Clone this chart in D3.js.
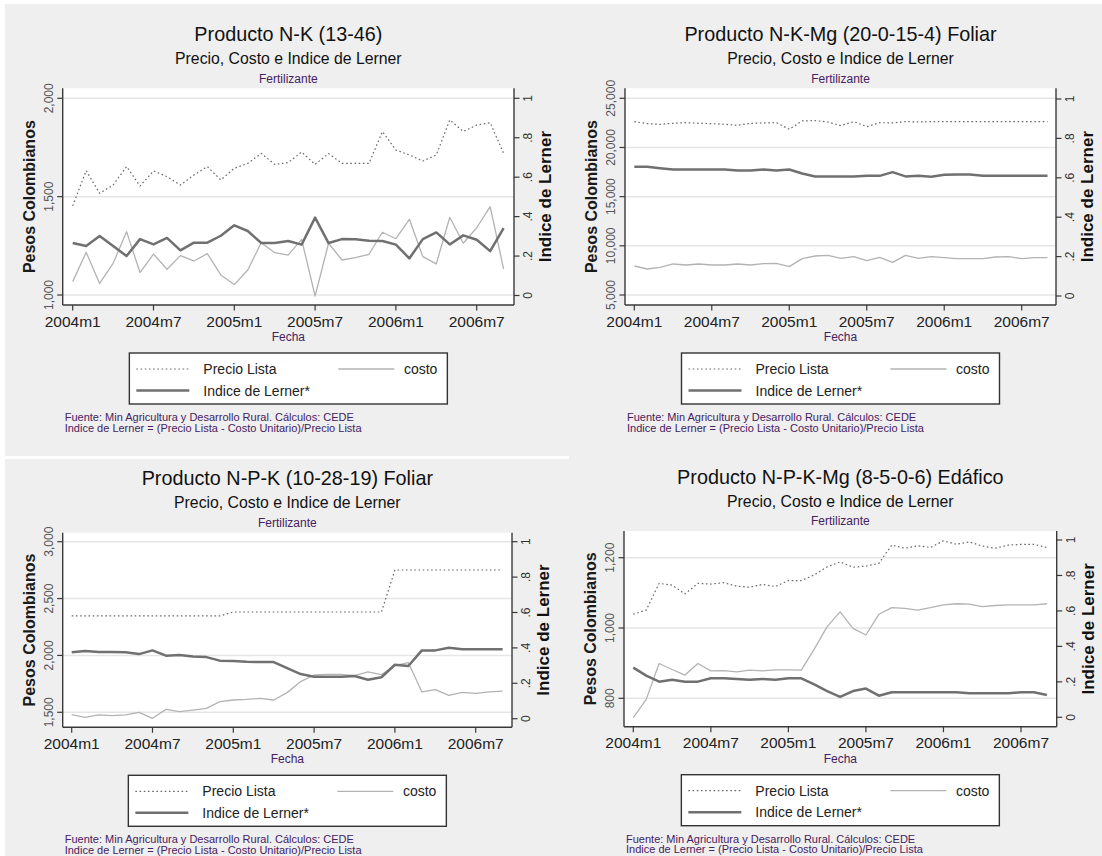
<!DOCTYPE html>
<html><head><meta charset="utf-8">
<script src="https://cdn.jsdelivr.net/npm/d3@7"></script>
<style>
body{margin:0;background:#fff;}
svg{display:block;font-family:"Liberation Sans",Arial,sans-serif;}
</style>
</head><body>
<svg id="chart" width="1102" height="856"></svg>
<script>
// ---------- DATA ----------
const months = ["2004m1","2004m2","2004m3","2004m4","2004m5","2004m6","2004m7","2004m8","2004m9","2004m10","2004m11","2004m12",
  "2005m1","2005m2","2005m3","2005m4","2005m5","2005m6","2005m7","2005m8","2005m9","2005m10","2005m11","2005m12",
  "2006m1","2006m2","2006m3","2006m4","2006m5","2006m6","2006m7","2006m8","2006m9"];
const xTickLabels = ["2004m1","2004m7","2005m1","2005m7","2006m1","2006m7"];
const seriesNames = ["Precio Lista","costo","Indice de Lerner*"];
const lernerTicks = [0,0.2,0.4,0.6,0.8,1];
const lernerTickLabels = ["0",".2",".4",".6",".8","1"];

const panelTitles = ["Producto N-K (13-46)","Producto N-K-Mg (20-0-15-4) Foliar","Producto N-P-K (10-28-19) Foliar","Producto N-P-K-Mg (8-5-0-6) Edáfico"];
const subtitle = "Precio, Costo e Indice de Lerner";
const caption = "Fertilizante";
const xTitle = "Fecha";
const yTitleLeft = "Pesos Colombianos";
const yTitleRight = "Indice de Lerner";
const notes = ["Fuente: Min Agricultura y Desarrollo Rural. Cálculos: CEDE","Indice de Lerner = (Precio Lista - Costo Unitario)/Precio Lista"];

// Panel 1: N-K (13-46)
const nkPrecio = [1453,1632,1517,1559,1653,1554,1631,1602,1559,1610,1653,1585,1644,1669,1720,1664,1673,1727,1664,1719,1669,1669,1669,1831,1737,1712,1681,1712,1890,1831,1864,1876,1720];
const nkCosto  = [1068,1217,1059,1161,1322,1114,1208,1131,1200,1173,1210,1102,1053,1127,1266,1215,1203,1283,995,1263,1178,1190,1207,1319,1286,1385,1195,1158,1395,1263,1342,1449,1132];
const nkLerner = [0.266,0.251,0.302,0.251,0.200,0.286,0.259,0.292,0.229,0.268,0.268,0.303,0.356,0.327,0.266,0.266,0.276,0.258,0.395,0.266,0.286,0.285,0.278,0.276,0.258,0.188,0.286,0.320,0.259,0.305,0.283,0.225,0.342];
const nkTicks = [1000,1500,2000];

// Panel 2: N-K-Mg (20-0-15-4) Foliar
const nkmgPrecio = [22627,22424,22356,22458,22525,22458,22424,22356,22254,22458,22492,22525,21847,22695,22729,22593,22220,22627,22118,22525,22492,22627,22593,22627,22627,22627,22627,22627,22627,22627,22627,22627,22627];
const nkmgCosto  = [7949,7644,7814,8153,8051,8153,8051,8051,8153,8051,8186,8220,7881,8695,8966,9034,8729,8898,8492,8831,8322,9034,8729,8898,8797,8695,8695,8695,8864,8898,8695,8797,8797];
const nkmgLerner = [0.656,0.656,0.649,0.642,0.642,0.642,0.642,0.642,0.637,0.637,0.642,0.637,0.642,0.622,0.607,0.607,0.607,0.607,0.610,0.610,0.629,0.607,0.610,0.605,0.615,0.617,0.617,0.610,0.610,0.610,0.610,0.610,0.610];
const nkmgTicks = [5000,10000,15000,20000,25000];

// Panel 3: N-P-K (10-28-19) Foliar
const npkPrecio = [2347,2347,2347,2347,2347,2347,2347,2347,2347,2347,2347,2347,2382,2382,2382,2382,2382,2382,2382,2382,2382,2382,2382,2382,2751,2751,2751,2751,2751,2751,2751,2751,2751];
const npkCosto  = [1480,1456,1477,1471,1477,1500,1447,1526,1506,1520,1535,1594,1608,1614,1623,1608,1673,1770,1828,1834,1834,1822,1855,1831,1910,1937,1679,1699,1649,1676,1667,1679,1687];
const npkLerner = [0.375,0.382,0.377,0.377,0.375,0.365,0.386,0.356,0.360,0.352,0.348,0.328,0.326,0.322,0.320,0.320,0.286,0.252,0.237,0.237,0.237,0.241,0.220,0.234,0.305,0.298,0.386,0.386,0.401,0.392,0.392,0.392,0.392];
const npkTicks = [1500,2000,2500,3000];

// Panel 4: N-P-K-Mg (8-5-0-6) Edáfico
const npkmgPrecio = [1039,1051,1127,1122,1097,1127,1125,1129,1119,1116,1124,1118,1135,1135,1151,1174,1188,1173,1176,1184,1236,1227,1234,1229,1248,1238,1245,1233,1227,1236,1238,1238,1229];
const npkmgCosto  = [745,797,899,882,866,899,878,879,875,880,878,881,881,880,940,1004,1046,999,980,1039,1058,1056,1051,1058,1066,1069,1068,1061,1064,1066,1066,1066,1069];
const npkmgLerner = [0.280,0.235,0.201,0.212,0.201,0.201,0.220,0.220,0.216,0.212,0.216,0.212,0.220,0.220,0.186,0.148,0.115,0.148,0.162,0.122,0.141,0.141,0.141,0.141,0.141,0.141,0.135,0.135,0.135,0.135,0.141,0.141,0.126];
const npkmgTicks = [800,1000,1200];

// ---------- LAYOUT / STYLE ----------
const panels = [
  {title:panelTitles[0], precio:nkPrecio, costo:nkCosto, lerner:nkLerner, ticks:nkTicks,
   l:62.7, r:514, t:88.3, b:305, x0:72.7, x30:476.7, yL:[1000,295,2000,98.3], yR:[0,295.5,1,98.3]},
  {title:panelTitles[1], precio:nkmgPrecio, costo:nkmgCosto, lerner:nkmgLerner, ticks:nkmgTicks,
   l:625, r:1056, t:88.3, b:305, x0:634.3, x30:1021.7, yL:[5000,295,25000,98.3], yR:[0,296,1,99]},
  {title:panelTitles[2], precio:npkPrecio, costo:npkCosto, lerner:npkLerner, ticks:npkTicks,
   l:62.7, r:512, t:532.7, b:727.3, x0:71.7, x30:475.7, yL:[1500,712.3,3000,541.7], yR:[0,718.7,1,541.7]},
  {title:panelTitles[3], precio:npkmgPrecio, costo:npkmgCosto, lerner:npkmgLerner, ticks:npkmgTicks,
   l:624, r:1056.7, t:531, b:726.7, x0:633.3, x30:1021, yL:[800,698.3,1200,557.7], yR:[0,717.3,1,540]}
];
const purple = "#46215f";
const svg = d3.select("#chart");

// backgrounds
svg.append("rect").attr("x",5).attr("y",4).attr("width",564).attr("height",452).attr("fill","#efefef");
svg.append("rect").attr("x",5).attr("y",459).attr("width",564).attr("height",397).attr("fill","#efefef");
svg.append("rect").attr("x",569).attr("y",4).attr("width",533).attr("height",852).attr("fill","#efefef");

const styles = {
  precio:{stroke:"#6a6a6a", width:1.2, dash:"1.6,2.6"},
  costo:{stroke:"#b3b3b3", width:1.3, dash:null},
  lerner:{stroke:"#707070", width:2.5, dash:null}
};

panels.forEach(p => {
  const g = svg.append("g");
  const cx = (p.l + p.r)/2;
  const x = d3.scaleLinear().domain([0,30]).range([p.x0,p.x30]);
  const yL = d3.scaleLinear().domain([p.yL[0],p.yL[2]]).range([p.yL[1],p.yL[3]]);
  const yR = d3.scaleLinear().domain([p.yR[0],p.yR[2]]).range([p.yR[1],p.yR[3]]);

  // plot area
  g.append("rect").attr("x",p.l).attr("y",p.t).attr("width",p.r-p.l).attr("height",p.b-p.t).attr("fill","#fff");
  // gridlines
  g.selectAll(".grid").data(p.ticks).enter().append("line")
    .attr("x1",p.l).attr("x2",p.r).attr("y1",d=>yL(d)).attr("y2",d=>yL(d))
    .attr("stroke","#e6e6e6").attr("stroke-width",1.5);

  // titles
  g.append("text").attr("x",cx).attr("y",p.t-47.3).attr("text-anchor","middle")
    .attr("font-size",19.8).attr("fill","#111").text(p.title);
  g.append("text").attr("x",cx).attr("y",p.t-24.3).attr("text-anchor","middle")
    .attr("font-size",15.8).attr("fill","#111").text(subtitle);
  g.append("text").attr("x",cx).attr("y",p.t-5.6).attr("text-anchor","middle")
    .attr("font-size",12).attr("fill",purple).text(caption);

  // lines
  const mk = (arr, sc) => d3.line().x((d,i)=>x(i)).y(d=>sc(d))(arr);
  [["costo",p.costo,yL],["precio",p.precio,yL],["lerner",p.lerner,yR]].forEach(([k,arr,sc])=>{
    const s = styles[k];
    g.append("path").attr("d",mk(arr,sc)).attr("fill","none").attr("stroke",s.stroke)
      .attr("stroke-width",s.width).attr("stroke-dasharray",s.dash).attr("stroke-linejoin","round");
  });

  // axes lines
  const axc = "#3a3a3a";
  g.append("line").attr("x1",p.l).attr("x2",p.l).attr("y1",p.t).attr("y2",p.b).attr("stroke",axc).attr("stroke-width",1.4);
  g.append("line").attr("x1",p.r).attr("x2",p.r).attr("y1",p.t).attr("y2",p.b).attr("stroke",axc).attr("stroke-width",1.4);
  g.append("line").attr("x1",p.l).attr("x2",p.r).attr("y1",p.b).attr("y2",p.b).attr("stroke",axc).attr("stroke-width",1.4);

  // left ticks
  const fmt = d3.format(",");
  p.ticks.forEach(v=>{
    g.append("line").attr("x1",p.l-5.5).attr("x2",p.l).attr("y1",yL(v)).attr("y2",yL(v)).attr("stroke",axc).attr("stroke-width",1.2);
    g.append("text").attr("transform",`translate(${p.l-9.7},${yL(v)}) rotate(-90)`).attr("text-anchor","middle")
      .attr("font-size",12).attr("fill","#555").text(fmt(v));
  });
  g.append("text").attr("transform",`translate(${p.l-27.7},${(p.t+p.b)/2}) rotate(-90)`).attr("text-anchor","middle")
    .attr("font-size",16).attr("font-weight","bold").attr("fill","#1a1a1a").text(yTitleLeft);

  // right ticks
  lernerTicks.forEach((v,i)=>{
    g.append("line").attr("x1",p.r).attr("x2",p.r+5.5).attr("y1",yR(v)).attr("y2",yR(v)).attr("stroke",axc).attr("stroke-width",1.2);
    g.append("text").attr("transform",`translate(${p.r+18},${yR(v)}) rotate(-90)`).attr("text-anchor","middle")
      .attr("font-size",12).attr("fill","#333").text(lernerTickLabels[i]);
  });
  g.append("text").attr("transform",`translate(${p.r+37},${(p.t+p.b)/2}) rotate(-90)`).attr("text-anchor","middle")
    .attr("font-size",17).attr("font-weight","bold").attr("fill","#111").text(yTitleRight);

  // x ticks
  xTickLabels.forEach(lab=>{
    const i = months.indexOf(lab);
    g.append("line").attr("x1",x(i)).attr("x2",x(i)).attr("y1",p.b).attr("y2",p.b+5.5).attr("stroke",axc).attr("stroke-width",1.2);
    g.append("text").attr("x",x(i)).attr("y",p.b+21.5).attr("text-anchor","middle")
      .attr("font-size",15.5).attr("fill","#222").text(lab);
  });
  g.append("text").attr("x",cx).attr("y",p.b+36).attr("text-anchor","middle")
    .attr("font-size",12).attr("fill",purple).text(xTitle);

  // legend
  const bl = cx - 159, bt = p.b + 48;
  g.append("rect").attr("x",bl).attr("y",bt).attr("width",318).attr("height",51)
    .attr("fill","#fff").attr("stroke","#333").attr("stroke-width",1.4);
  const r1 = bt+16, r2 = bt+37.5;
  const key = (k,x1,x2,y)=>{const s=styles[k];
    g.append("line").attr("x1",x1).attr("x2",x2).attr("y1",y).attr("y2",y).attr("stroke",s.stroke)
     .attr("stroke-width",s.width).attr("stroke-dasharray",s.dash);};
  key("precio",bl+7,bl+60,r1);
  key("costo",bl+209,bl+265,r1);
  key("lerner",bl+7,bl+60,r2);
  g.append("text").attr("x",bl+74).attr("y",r1+5).attr("font-size",14).attr("fill","#222").text(seriesNames[0]);
  g.append("text").attr("x",bl+308).attr("y",r1+5).attr("text-anchor","end").attr("font-size",14).attr("fill","#222").text(seriesNames[1]);
  g.append("text").attr("x",bl+74).attr("y",r2+5).attr("font-size",14).attr("fill","#222").text(seriesNames[2]);

  // notes
  notes.forEach((n,i)=>{
    g.append("text").attr("x",p.l+2).attr("y",p.b+116+i*10.5).attr("font-size",11).attr("fill",purple).text(n);
  });
});
</script>
</body></html>
